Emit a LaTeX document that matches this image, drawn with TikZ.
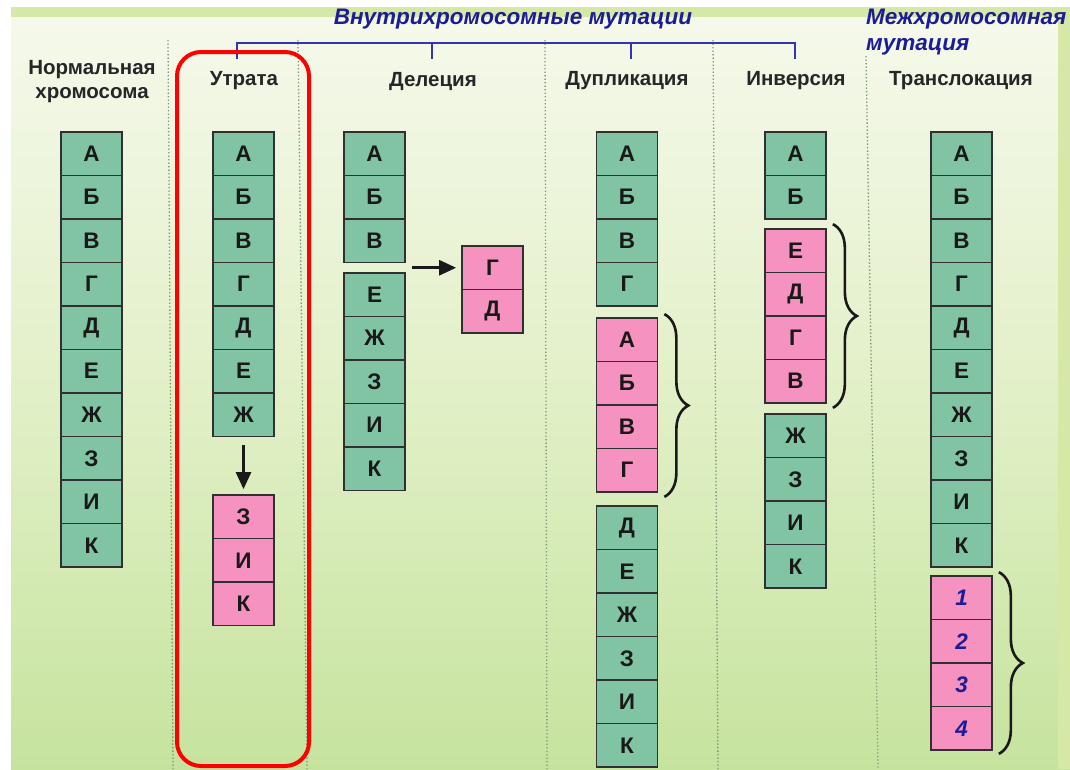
\documentclass[tikz,border=0pt]{standalone}
\usepackage{fontspec}
\setmainfont{Liberation Sans}
\usetikzlibrary{arrows.meta,decorations.pathreplacing}
\definecolor{bgtop}{HTML}{F6F9EC}
\definecolor{bgmid}{HTML}{E2F0C8}
\definecolor{bgbot}{HTML}{C6E39E}
\definecolor{band}{HTML}{D5E8A6}
\definecolor{gfill}{HTML}{80C4A4}
\definecolor{pfill}{HTML}{F592C0}
\definecolor{edge}{HTML}{303030}
\definecolor{ttl}{HTML}{1C1C96}
\definecolor{brk}{HTML}{3434AE}
\definecolor{sep}{HTML}{7E9A78}
\newcommand\chrcol[5]{%
  \foreach \t [count=\i] in {#5}
    \node[#4] (#1\i) at (#2,{#3+21.75+(\i-1)*43.5}) {\t};}
\begin{document}
\begin{tikzpicture}[x=1pt,y=-1pt,
  cell/.style={rectangle,draw=edge,line width=1.7pt,minimum width=61pt,minimum height=43.5pt,inner sep=0pt,
    font=\bfseries\fontsize{22.5}{22.5}\selectfont,text=black!90},
  gbox/.style={cell,fill=gfill},
  pbox/.style={cell,fill=pfill},
  pnum/.style={pbox,font=\bfseries\itshape\fontsize{22.5}{22.5}\selectfont,text=ttl},
  lbl/.style={font=\bfseries\fontsize{20.5}{24}\selectfont,text=black!85,align=center,inner sep=0pt},
  ttlstyle/.style={font=\bfseries\itshape\fontsize{22.5}{25.5}\selectfont,text=ttl,inner sep=0pt},
  arr/.style={line width=2.6pt,draw=black!90,-{Triangle[length=17pt,width=15pt]}},
  brc/.style={line width=2.6pt,draw=black!90,decorate,decoration={brace,amplitude=24pt,aspect=0.5}},
  sepline/.style={draw=sep,line width=1.3pt,dash pattern=on 1.3pt off 2.2pt},
  blu/.style={draw=brk,line width=1.7pt}]
\useasboundingbox (0,0) rectangle (1070,769);
\fill[white] (0,0) rectangle (1070,769);
% background panel
\shade[top color=bgtop,bottom color=bgbot,middle color=bgmid] (11,7) rectangle (1070,769);
\fill[band] (11,7) rectangle (1070,17);
\fill[band] (1058,7) rectangle (1070,769);
% dotted separators
\draw[sepline] (168,40) -- (173,769);
\draw[sepline] (298,40) -- (307,769);
\draw[sepline] (545,40) -- (547,769);
\draw[sepline] (713,40) -- (718,769);
\draw[sepline] (866,56) -- (878,769);
% titles
\node[ttlstyle] (t1) at (513,19) {Внутрихромосомные мутации};
\node[ttlstyle,anchor=west,align=left] (t2) at (866,32) {Межхромосомная\\мутация};
\draw[blu] (237,59) -- (237,43) -- (795,43) -- (795,59);
\draw[blu] (432,43) -- (432,59);
\draw[blu] (631,43) -- (631,59);
% column labels
\node[lbl] (l0) at (92,82) {Нормальная\\хромосома};
\node[lbl] (l1) at (244,81) {Утрата};
\node[lbl] (l2) at (433,81) {Делеция};
\node[lbl] (l3) at (627,81) {Дупликация};
\node[lbl] (l4) at (796,81) {Инверсия};
\node[lbl] (l5) at (961,81) {Транслокация};
% normal chromosome
\chrcol{n}{91.5}{132}{gbox}{А,Б,В,Г,Д,Е,Ж,З,И,К}
% loss
\chrcol{u}{243.5}{132}{gbox}{А,Б,В,Г,Д,Е,Ж}
\chrcol{uz}{243.5}{495}{pbox}{З,И,К}
\draw[arr,shorten <=8pt,shorten >=5pt] (u7.south) -- (uz1.north);
% deletion
\chrcol{d}{374.5}{132}{gbox}{А,Б,В}
\chrcol{de}{374.5}{273}{gbox}{Е,Ж,З,И,К}
\chrcol{dg}{492.5}{246}{pbox}{Г,Д}
\draw[arr,shorten >=5pt] ([xshift=6pt]dg1.west -| d3.east) -- (dg1.west);
% duplication
\chrcol{p}{627}{132}{gbox}{А,Б,В,Г}
\chrcol{pp}{627}{318}{pbox}{А,Б,В,Г}
\chrcol{pd}{627}{506}{gbox}{Д,Е,Ж,З,И,К}
\draw[brc] ([xshift=6pt,yshift=3pt]pp1.north east) -- ([xshift=6pt,yshift=-4pt]pp4.south east);
% inversion
\chrcol{v}{795.5}{132}{gbox}{А,Б}
\chrcol{vp}{795.5}{229}{pbox}{Е,Д,Г,В}
\chrcol{vz}{795.5}{414}{gbox}{Ж,З,И,К}
\draw[brc] ([xshift=6pt,yshift=4pt]vp1.north east) -- ([xshift=6pt,yshift=-4pt]vp4.south east);
% translocation
\chrcol{r}{961.5}{132}{gbox}{А,Б,В,Г,Д,Е,Ж,З,И,К}
\chrcol{rp}{961.5}{576}{pnum}{1,2,3,4}
\draw[brc] ([xshift=6pt,yshift=3pt]rp1.north east) -- ([xshift=6pt,yshift=-3pt]rp4.south east);
% highlight
\draw[red,line width=4pt,rounded corners=24pt] (177,52) rectangle (309,766);
\end{tikzpicture}
\end{document}
